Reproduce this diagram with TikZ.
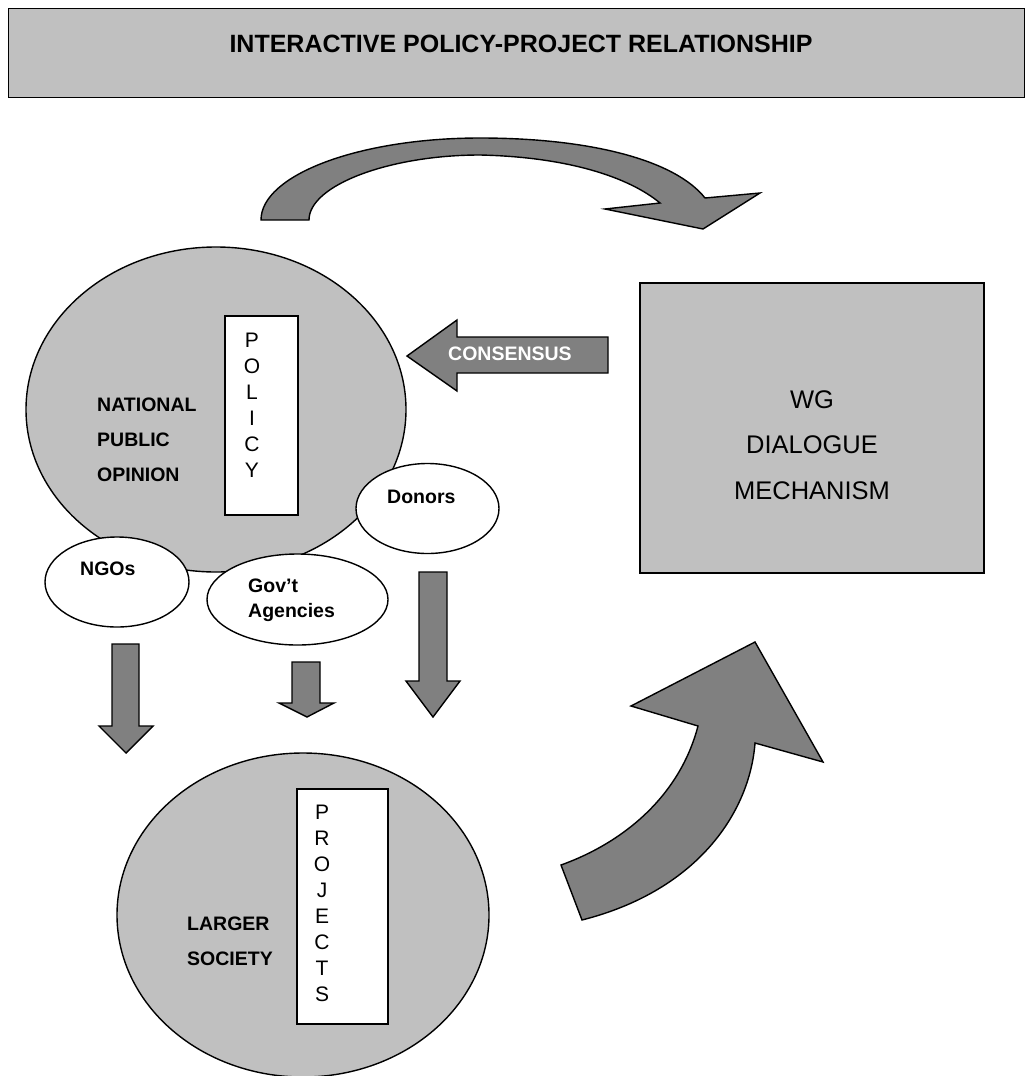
\documentclass[tikz,border=0pt]{standalone}
\usepackage{fontspec}
\setmainfont{Liberation Sans}
\usetikzlibrary{shapes.geometric}
\definecolor{lightfill}{HTML}{C0C0C0}
\definecolor{arrowfill}{HTML}{808080}

\begin{document}
\begin{tikzpicture}[x=1pt,y=-1pt,
  outline/.style={draw=black, line width=1.4pt},
  lightshape/.style={outline, fill=lightfill},
  blockarrow/.style={outline, fill=arrowfill, line join=miter},
  oval/.style={ellipse, outline, fill=white, inner sep=0pt},
  bigoval/.style={ellipse, lightshape, inner sep=0pt},
  panel/.style={rectangle, lightshape, inner sep=0pt},
  letterbox/.style={rectangle, outline, fill=white, inner sep=0pt},
  titletext/.style={font=\fontsize{25}{25}\selectfont\bfseries, inner sep=0pt},
  boldlabel/.style={font=\fontsize{19.5}{19.5}\selectfont\bfseries, inner sep=0pt, anchor=base west},
  letter/.style={font=\fontsize{21}{21}\selectfont, inner sep=0pt, anchor=base},
  wgtext/.style={font=\fontsize{25.5}{25.5}\selectfont, inner sep=0pt, anchor=base}
]
\useasboundingbox (0,0) rectangle (1026,1076);
\clip (0,0) rectangle (1026,1076);

% heading banner
\node[panel, minimum width=1016pt, minimum height=89pt, anchor=north west] (titlebox) at (8,8) {};
\node[titletext, anchor=base] (title) at (521,52) {INTERACTIVE POLICY-PROJECT RELATIONSHIP};

% curved arrow over the top
\draw[blockarrow] (261,220) .. controls (261,175) and (359,138) .. (480,138)
  .. controls (590,138) and (675,160) .. (705,198)
  -- (760,193) -- (703,229) -- (605,209) -- (660,203)
  .. controls (630,178) and (570,157) .. (480,155)
  .. controls (390,155) and (309,185) .. (309,220) -- cycle;

% national public opinion
\node[bigoval, minimum width=380pt, minimum height=325pt] (national) at (216,409.5) {};
\node[letterbox, minimum width=73pt, minimum height=199pt] (policybox) at (261.5,415.5) {};
\foreach \ch [count=\i] in {P,O,L,I,C,Y}
  \node[letter] (policy\i) at (252,{347+26*(\i-1)}) {\ch};
\node[boldlabel] (national1) at (97,411) {NATIONAL};
\node[boldlabel] (national2) at (97,446) {PUBLIC};
\node[boldlabel] (national3) at (97,481) {OPINION};

% actors
\node[oval, minimum width=143pt, minimum height=90pt] (donors) at (427.5,508.5) {};
\node[boldlabel] (donorstext) at (387,503) {Donors};
\node[oval, minimum width=144pt, minimum height=90pt] (ngos) at (117,582) {};
\node[boldlabel] (ngostext) at (80,575) {NGOs};
\node[oval, minimum width=181pt, minimum height=91pt] (gov) at (297.5,599.5) {};
\node[boldlabel] (govtext1) at (248,592) {Gov’t};
\node[boldlabel] (govtext2) at (248,617) {Agencies};

% consensus arrow
\draw[blockarrow] (608,337) -- (457,337) -- (457,320) -- (407,356)
  -- (457,391) -- (457,373) -- (608,373) -- cycle;
\node[boldlabel, text=white] (consensus) at (448,360) {CONSENSUS};

% dialogue mechanism
\node[panel, minimum width=344pt, minimum height=290pt] (wg) at (812,428) {};
\node[wgtext] (wg1) at (812,408) {WG};
\node[wgtext] (wg2) at (812,453) {DIALOGUE};
\node[wgtext] (wg3) at (812,499) {MECHANISM};

% downward arrows
\draw[blockarrow] (112,644) -- (139,644) -- (139,726) -- (153,726) -- (126,753)
  -- (99,726) -- (112,726) -- cycle;
\draw[blockarrow] (292,662) -- (320,662) -- (320,703) -- (334,703) -- (307,717)
  -- (279,703) -- (292,703) -- cycle;
\draw[blockarrow] (419,572) -- (447,572) -- (447,681) -- (460,681) -- (433,717)
  -- (406,681) -- (419,681) -- cycle;

% rising arrow back to the mechanism
\draw[blockarrow] (561,865) .. controls (625,842) and (680,795) .. (698,726)
  -- (631,706) -- (755,642) -- (823,762) -- (755,743)
  .. controls (750,810) and (700,890) .. (582,920) -- cycle;

% larger society
\node[bigoval, minimum width=372pt, minimum height=324pt] (society) at (303,915) {};
\node[letterbox, minimum width=91pt, minimum height=235pt] (projectsbox) at (342.5,906.5) {};
\foreach \ch [count=\i] in {P,R,O,J,E,C,T,S}
  \node[letter] (projects\i) at (322,{819+26*(\i-1)}) {\ch};
\node[boldlabel] (society1) at (187,930) {LARGER};
\node[boldlabel] (society2) at (187,965) {SOCIETY};
\end{tikzpicture}
\end{document}
